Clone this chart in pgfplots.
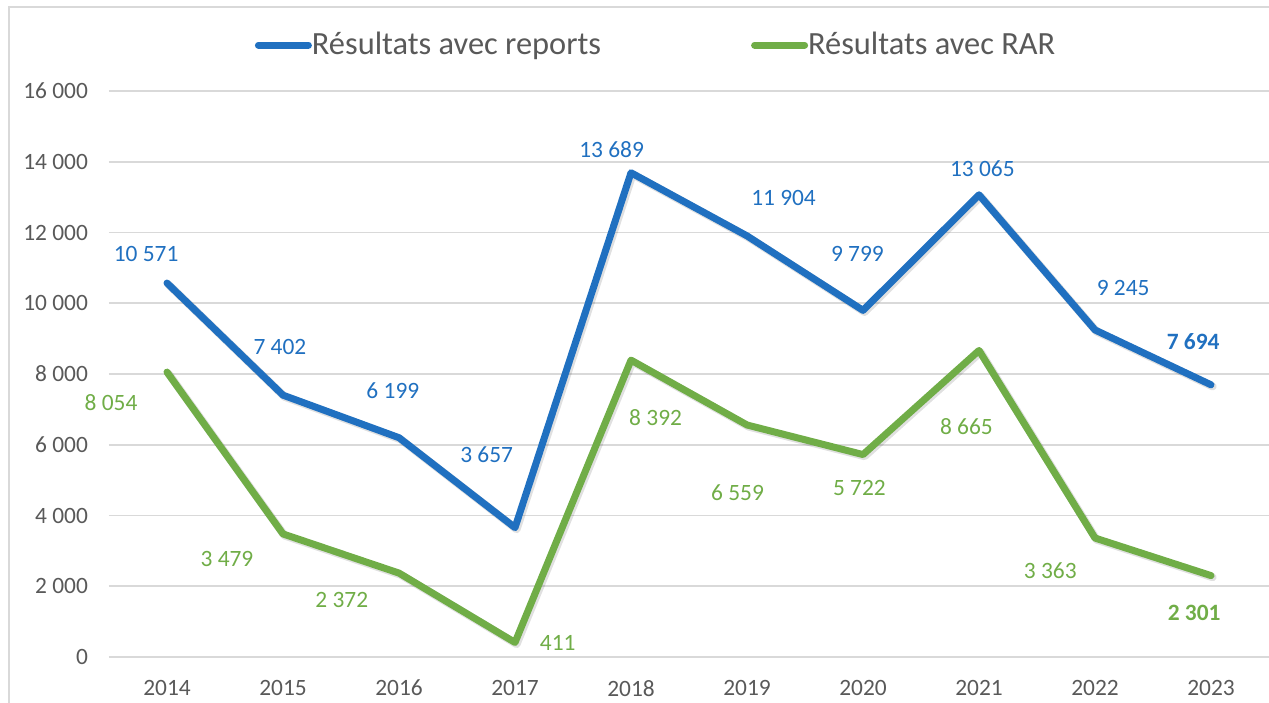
\documentclass[border=0pt]{standalone}
\usepackage{pgfplots}
\pgfplotsset{compat=1.18}
\usepackage{fontspec}
\setmainfont{Carlito}
\definecolor{cblue}{HTML}{2070C0}
\definecolor{cgreen}{HTML}{70AD47}
\definecolor{tgray}{HTML}{595959}
\definecolor{ggray}{HTML}{D9D9D9}
\pgfplotstableread{
x y
0 10571
1 7402
2 6199
3 3657
4 13689
5 11904
6 9799
7 13065
8 9245
9 7694
}\reports
\pgfplotstableread{
x y
0 8054
1 3479
2 2372
3 411
4 8392
5 6559
6 5722
7 8665
8 3363
9 2301
}\rar
\begin{document}
\begin{tikzpicture}
\useasboundingbox (-54.5pt,-22.5pt) rectangle (580pt,328.5pt);
\draw[ggray, line width=0.9pt] (-50pt,-40pt) rectangle (600pt,325pt);
\begin{axis}[
  at={(0,0)}, anchor=south west,
  scale only axis, width=580pt, height=283pt,
  xmin=-0.5, xmax=9.5, ymin=0, ymax=16000,
  axis line style={draw=none},
  xtick={0,...,9},
  xticklabels={2014,2015,2016,2017,2018,2019,2020,2021,2022,2023},
  ytick={0,2000,4000,6000,8000,10000,12000,14000,16000},
  yticklabels={0,2 000,4 000,6 000,8 000,10 000,12 000,14 000,16 000},
  scaled y ticks=false,
  major tick length=0pt,
  ymajorgrids, grid style={ggray, line width=0.8pt},
  tick label style={font=\fontsize{11.7}{13}\selectfont, text=tgray},
  yticklabel style={xshift=-7pt},
  xticklabel style={yshift=-8pt},
  legend columns=2,
  legend style={draw=none, fill=none, at={(0.4725,1.081)}, anchor=center,
    font=\fontsize{16.2}{18}\selectfont, text=tgray,
    /tikz/every odd column/.append style={column sep=-2pt},
    /tikz/every even column/.append style={column sep=73pt}},
  legend image code/.code={\draw[#1, line width=3.5pt, line cap=round] (0pt,0pt) -- (25pt,0pt);},
  clip=false,
]
\addplot[black, opacity=0.12, line width=4pt, line cap=round, line join=round, shift={(0.8pt,-0.8pt)}, forget plot] table {\reports};
\addplot[black, opacity=0.12, line width=4pt, line cap=round, line join=round, shift={(0.8pt,-0.8pt)}, forget plot] table {\rar};
\addplot[cblue, line width=3.5pt, line cap=round, line join=round] table {\reports};
\addlegendentry{Résultats avec reports}
\addplot[cgreen, line width=3.5pt, line cap=round, line join=round] table {\rar};
\addlegendentry{Résultats avec RAR}
\begin{scope}[every node/.style={font=\fontsize{11.7}{13}\selectfont, text=cblue}]
\node at (axis cs:-0.18,11392) {10 571};
\node at (axis cs:0.973,8763) {7 402};
\node at (axis cs:1.947,7519) {6 199};
\node at (axis cs:2.756,5710) {3 657};
\node at (axis cs:3.833,14332) {13 689};
\node at (axis cs:5.315,12975) {11 904};
\node at (axis cs:5.952,11392) {9 799};
\node at (axis cs:7.029,13795) {13 065};
\node at (axis cs:8.243,10431) {9 245};
\node at (axis cs:8.846,8905) {\bfseries 7 694};
\end{scope}
\begin{scope}[every node/.style={font=\fontsize{11.7}{13}\selectfont, text=cgreen}]
\node at (axis cs:-0.482,7180) {8 054};
\node at (axis cs:0.517,2770) {3 479};
\node at (axis cs:1.507,1611) {2 372};
\node at (axis cs:3.368,396) {411};
\node at (axis cs:4.212,6756) {8 392};
\node at (axis cs:4.918,4636) {6 559};
\node at (axis cs:5.969,4777) {5 722};
\node at (axis cs:6.891,6502) {8 665};
\node at (axis cs:7.614,2431) {3 363};
\node at (axis cs:8.855,1244) {\bfseries 2 301};
\end{scope}
\end{axis}
\end{tikzpicture}
\end{document}
